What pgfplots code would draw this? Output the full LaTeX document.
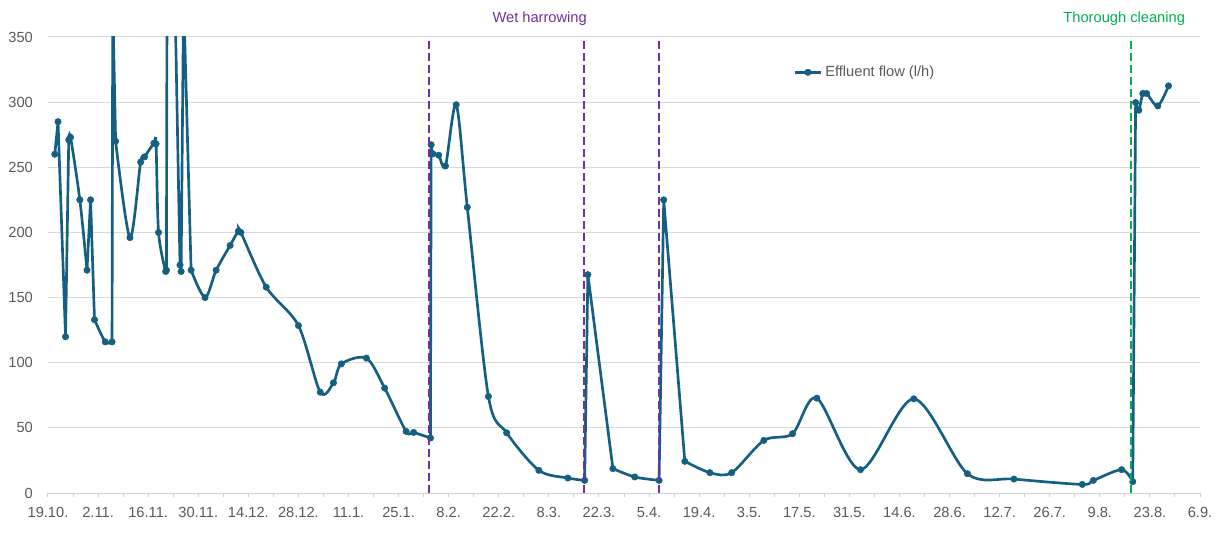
\documentclass[border=0pt]{standalone}
\usepackage{fontspec}
\setmainfont{Liberation Sans}
\usepackage{pgfplots}
\usepackage{pgfplotstable}
\pgfplotsset{compat=1.18}
\definecolor{flowblue}{HTML}{156082}
\definecolor{harrow}{HTML}{7030A0}
\definecolor{clean}{HTML}{00B050}
\definecolor{gridgray}{HTML}{D9D9D9}
\definecolor{axisgray}{HTML}{D0D0D0}
\definecolor{labelgray}{HTML}{595959}

\pgfplotstableread{
day flow
1.9 260
2.8 285
4.9 120
5.8 271
6.3 273
8.9 225
10.9 171
11.9 225
13.0 133
16.0 116
17.9 116
18.1 375
18.9 270
22.9 196
25.9 254
27.0 258
29.6 268.5
30.2 268
30.9 200
32.9 170
33.1 171
33.5 670
36.9 175
37.2 170
37.9 380
40.0 171
43.9 150
47.0 171
50.9 190
53.2 201
53.9 200
61.0 158
70.0 128.5
76.1 77.4
79.8 84.6
82.0 99.1
89.0 103.5
94.1 80.5
100.1 47.3
102.2 46.5
106.9 42.2
107.1 267.3
107.6 260.3
109.2 259.3
111.1 251
114.1 298
117.2 219.3
123.1 74.1
128.2 46.2
137.2 17.4
145.3 11.5
150.0 9.7
150.9 167.6
157.9 18.7
164.0 12.3
170.8 9.7
172.1 225
178.0 24.3
185.0 15.6
191.1 15.6
200.1 40.4
208.1 45.5
214.9 72.8
227.1 17.9
242.0 72.3
257.0 14.8
270.0 10.7
289.1 6.6
292.2 9.7
300.1 17.9
303.2 8.7
304.0 299.7
304.9 293.8
306.0 306.6
307.1 306.6
310.2 297.1
313.2 312.5
}\flowdata

\pgfplotsset{
  flowline/.style={flowblue, line width=2pt, no markers, forget plot},
  curved/.style={flowline, smooth, tension=0.5},
  straight/.style={flowline, sharp plot},
  marker line/.style={harrow, line width=1.4pt, dash pattern=on 6pt off 3pt, forget plot},
}

\begin{document}
\fontsize{11pt}{13pt}\selectfont
\begin{tikzpicture}
\begin{axis}[
  name=main,
  scale only axis,
  width=864pt, height=342pt,
  xmin=0, xmax=322,
  ymin=0, ymax=350,
  clip mode=individual,
  axis x line*=bottom,
  axis y line*=left,
  x axis line style={-, draw=axisgray, line width=0.75pt},
  y axis line style={draw=none},
  xtick={0,14,...,322},
  xticklabels={19.10.,2.11.,16.11.,30.11.,14.12.,28.12.,11.1.,25.1.,8.2.,22.2.,8.3.,22.3.,5.4.,19.4.,3.5.,17.5.,31.5.,14.6.,28.6.,12.7.,26.7.,9.8.,23.8.,6.9.},
  minor xtick={7,21,...,315},
  tick align=outside,
  major tick length=3pt,
  minor tick length=3pt,
  xtick style={draw=axisgray, line width=0.75pt},
  minor x tick style={draw=axisgray, line width=0.75pt},
  ytick={0,50,...,350},
  ytick style={draw=none},
  ymajorgrids,
  grid style={gridgray, line width=0.75pt},
  tick label style={font=\fontsize{11pt}{13pt}\selectfont, text=labelgray},
  xticklabel style={yshift=-4pt},
  yticklabel style={xshift=-4.5pt},
  /pgf/number format/assume math mode=true,
  legend style={at={(0.6467,0.9226)}, anchor=west, draw=none, fill=none,
    inner sep=0pt, font=\fontsize{11pt}{13pt}\selectfont, text=labelgray},
  legend cell align=left,
]
% line pieces: smooth where the curve bends, straight through the sudden jumps
\addplot[straight, restrict x to domain=0:5.85]      table[x=day, y=flow]{\flowdata};
\addplot[curved,   restrict x to domain=5.75:10.95]  table[x=day, y=flow]{\flowdata};
\addplot[straight, restrict x to domain=10.85:13.05] table[x=day, y=flow]{\flowdata};
\addplot[curved,   restrict x to domain=12.95:17.95] table[x=day, y=flow]{\flowdata};
\addplot[straight, restrict x to domain=17.85:18.95] table[x=day, y=flow]{\flowdata};
\addplot[curved,   restrict x to domain=18.85:32.95] table[x=day, y=flow]{\flowdata};
\addplot[straight, restrict x to domain=32.85:40.05] table[x=day, y=flow]{\flowdata};
\addplot[curved,   restrict x to domain=39.95:106.95] table[x=day, y=flow]{\flowdata};
\addplot[straight, restrict x to domain=106.85:107.15] table[x=day, y=flow]{\flowdata};
\addplot[curved,   restrict x to domain=107.05:150.05] table[x=day, y=flow]{\flowdata};
\addplot[straight, restrict x to domain=149.95:157.95] table[x=day, y=flow]{\flowdata};
\addplot[curved,   restrict x to domain=157.85:170.85] table[x=day, y=flow]{\flowdata};
\addplot[straight, restrict x to domain=170.75:178.05] table[x=day, y=flow]{\flowdata};
\addplot[curved,   restrict x to domain=177.95:303.25] table[x=day, y=flow]{\flowdata};
\addplot[straight, restrict x to domain=303.15:304.05] table[x=day, y=flow]{\flowdata};
\addplot[curved,   restrict x to domain=303.95:314]  table[x=day, y=flow]{\flowdata};
% markers
\addplot[flowblue, only marks, mark=*, mark size=2.4pt,
  legend image code/.code={\draw[flowblue, line width=2pt] (0pt,0pt) -- (20pt,0pt);
    \fill[flowblue] (10pt,0pt) circle (2.4pt);}]
  table[x=day, y=flow]{\flowdata};
\addlegendentry{Effluent flow (l/h)}

\addplot[marker line] coordinates {(106.4,0) (106.4,350)};
\addplot[marker line] coordinates {(149.9,0) (149.9,350)};
\addplot[marker line] coordinates {(170.9,0) (170.9,350)};
\addplot[marker line, clean] coordinates {(302.6,0) (302.6,350)};

\node[anchor=base, text=harrow, inner sep=0pt] at (rel axis cs:0.4268,1.0307) {Wet harrowing};
\node[anchor=base, text=clean, inner sep=0pt] at (rel axis cs:0.9342,1.0307) {Thorough cleaning};
\end{axis}
\pgfresetboundingbox
\path[use as bounding box] ([shift={(-36pt,-29.25pt)}]main.south west) rectangle ([shift={(14.25pt,27.75pt)}]main.north east);
\end{tikzpicture}
\end{document}
